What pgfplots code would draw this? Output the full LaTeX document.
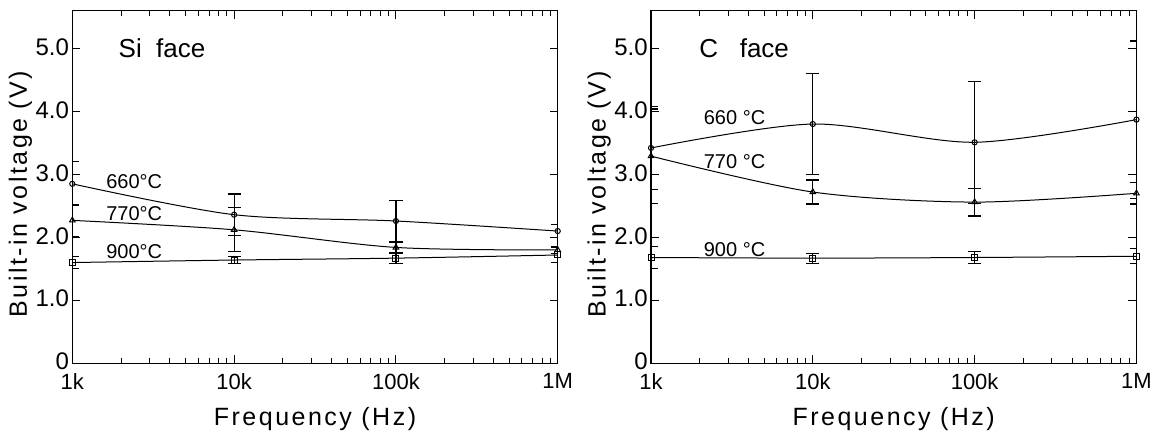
\documentclass[border=0pt]{standalone}
\usepackage{fontspec}
\setmainfont{Liberation Sans}
\newfontfamily\spaced[LetterSpace=10]{Liberation Sans}
\usepackage{pgfplots}
\pgfplotsset{compat=1.18}

% left panel: Si face (x, y, error)
\pgfplotstableread{
x y e
1000 2.85 0.35
10000 2.36 0.33
100000 2.26 0.32
1000000 2.10 0.10
}\sisixty
\pgfplotstableread{
x y e
1000 2.27 0.25
10000 2.12 0.35
100000 1.84 0.08
1000000 1.80 0.06
}\siseventy
\pgfplotstableread{
x y e
1000 1.60 0.09
10000 1.64 0.05
100000 1.67 0.08
1000000 1.72 0.12
}\sinine
% right panel: C face
\pgfplotstableread{
x y e
1000 3.42 0.66
10000 3.80 0.80
100000 3.51 0.97
1000000 3.87 1.25
}\csixty
\pgfplotstableread{
x y e
1000 3.29 0.75
10000 2.72 0.19
100000 2.56 0.22
1000000 2.70 0.17
}\cseventy
\pgfplotstableread{
x y e
1000 1.68 0.17
10000 1.67 0.08
100000 1.68 0.10
1000000 1.70 0.12
}\cnine

\pgfplotsset{every axis/.append style={
  scale only axis, width=242.7pt, height=176.3pt, anchor=south west,
  xmin=1e3, xmax=1e6, ymin=0, ymax=5.6,
  xtick={1e3,1e4,1e5,1e6}, xticklabels={1k,10k,100k,1M},
  ytick={0,1,2,3,4,5}, yticklabels={0,1.0,2.0,3.0,4.0,5.0},
  major tick length=4pt, minor tick length=2.5pt,
  axis line style={line width=0.7pt},
  tick style={black, line width=0.5pt},
  yticklabel style={font=\fontsize{12}{12}\selectfont, inner sep=0.5pt, xshift=-1pt, yshift=0.8pt},
  xticklabel style={font=\fontsize{11}{11}\selectfont, inner sep=0.5pt, yshift=-4.5pt},
  label style={font=\spaced\fontsize{12.5}{13}\selectfont},
  xlabel style={at={(axis description cs:0.5,-0.158)}, anchor=center},
  ylabel style={at={(axis description cs:-0.107,0.48)}, anchor=center},
}}
\pgfplotsset{every axis plot/.append style={black, line width=0.5pt, smooth,
  error bars/y dir=both, error bars/y explicit,
  error bars/error bar style={line width=0.6pt},
  error bars/error mark options={rotate=90, mark size=3.3pt, line width=0.6pt}}}

\begin{document}
\begin{tikzpicture}
\useasboundingbox (0,0) rectangle (582.5pt,215.5pt);
\begin{axis}[xmode=log, at={(36.15pt,33.85pt)},
  xlabel={Frequency (Hz)}, ylabel={Built-in voltage (V)}]
  \addplot[mark=o, mark size=1.3pt, mark options={solid, fill=white}]
    table[x=x, y=y, y error=e] {\sisixty};
  \addplot[mark=triangle, mark size=1.6pt, mark options={solid, fill=white}]
    table[x=x, y=y, y error=e] {\siseventy};
  \addplot[mark=square, mark size=1.5pt, mark options={solid, fill=white}]
    table[x=x, y=y, y error=e] {\sinine};
  \node[anchor=west, font=\fontsize{13}{13}\selectfont] at (axis cs:1750,5.0) {Si\ \ face};
  \node[anchor=west, font=\fontsize{10}{10}\selectfont] at (axis cs:1468,2.88) {660°C};
  \node[anchor=west, font=\fontsize{10}{10}\selectfont] at (axis cs:1468,2.37) {770°C};
  \node[anchor=west, font=\fontsize{10}{10}\selectfont] at (axis cs:1468,1.77) {900°C};
\end{axis}
\begin{axis}[xmode=log, at={(325.5pt,33.85pt)},
  xlabel={Frequency (Hz)}, ylabel={Built-in voltage (V)}]
  \addplot[mark=o, mark size=1.3pt, mark options={solid, fill=white}]
    table[x=x, y=y, y error=e] {\csixty};
  \addplot[mark=triangle, mark size=1.6pt, mark options={solid, fill=white}]
    table[x=x, y=y, y error=e] {\cseventy};
  \addplot[mark=square, mark size=1.5pt, mark options={solid, fill=white}]
    table[x=x, y=y, y error=e] {\cnine};
  \node[anchor=west, font=\fontsize{13}{13}\selectfont] at (axis cs:1800,5.0) {C\ \ \ face};
  \node[anchor=west, font=\fontsize{10}{10}\selectfont] at (axis cs:1919,3.90) {660 °C};
  \node[anchor=west, font=\fontsize{10}{10}\selectfont] at (axis cs:1919,3.20) {770 °C};
  \node[anchor=west, font=\fontsize{10}{10}\selectfont] at (axis cs:1919,1.81) {900 °C};
\end{axis}
\end{tikzpicture}
\end{document}
